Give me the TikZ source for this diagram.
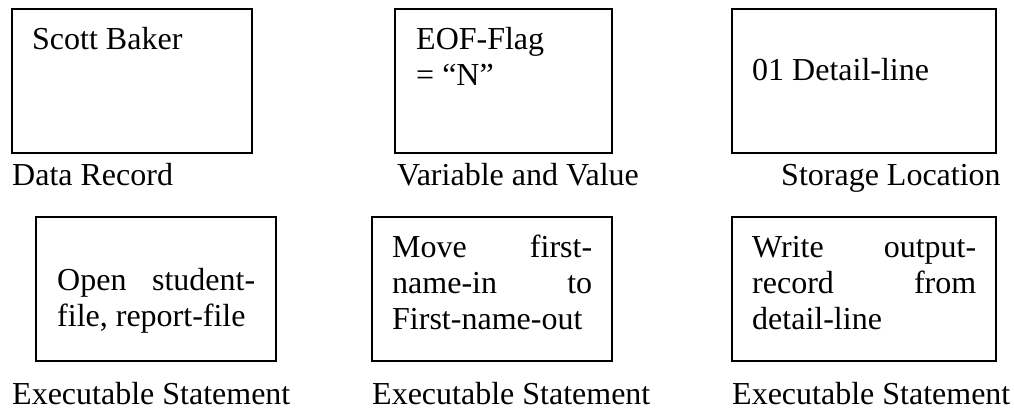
\documentclass[tikz,border=0pt]{standalone}
\usepackage{fontspec}
\setmainfont{Liberation Serif}
\begin{document}
\begin{tikzpicture}[x=1pt,y=-1pt,
  card/.style={draw,line width=1.3pt},
  txt/.style={anchor=base west,inner sep=0pt,font=\fontsize{32}{36}\selectfont}]
\useasboundingbox (0,0) rectangle (1014,409);

% upper row
\draw[card] (12,9) rectangle (252,153);
\draw[card] (395,9) rectangle (612,153);
\draw[card] (732,9) rectangle (996,153);
\node[txt] (rec) at (32,50) {Scott Baker};
\node[txt] (var) at (416,50) {\parbox[t]{180pt}{EOF-Flag\\= “N”}};
\node[txt] (loc) at (752,81) {01 Detail-line};
\node[txt] (capA) at (12,185) {Data Record};
\node[txt] (capB) at (397,185) {Variable and Value};
\node[txt] (capC) at (781,185) {Storage Location};

% lower row
\draw[card] (36,217) rectangle (276,361);
\draw[card] (372,217) rectangle (612,361);
\draw[card] (732,217) rectangle (996,361);
\node[txt] (open) at (57,290) {\parbox[t]{198pt}{Open\hfill student-\\file, report-file}};
\node[txt] (move) at (392,257) {\parbox[t]{200pt}{Move\hfill first-\\name-in\hfill to\\First-name-out}};
\node[txt] (write) at (752,257) {\parbox[t]{224pt}{Write\hfill output-\\record\hfill from\\detail-line}};
\node[txt] (capD) at (12,404) {Executable Statement};
\node[txt] (capE) at (372,404) {Executable Statement};
\node[txt] (capF) at (732,404) {Executable Statement};
\end{tikzpicture}
\end{document}
